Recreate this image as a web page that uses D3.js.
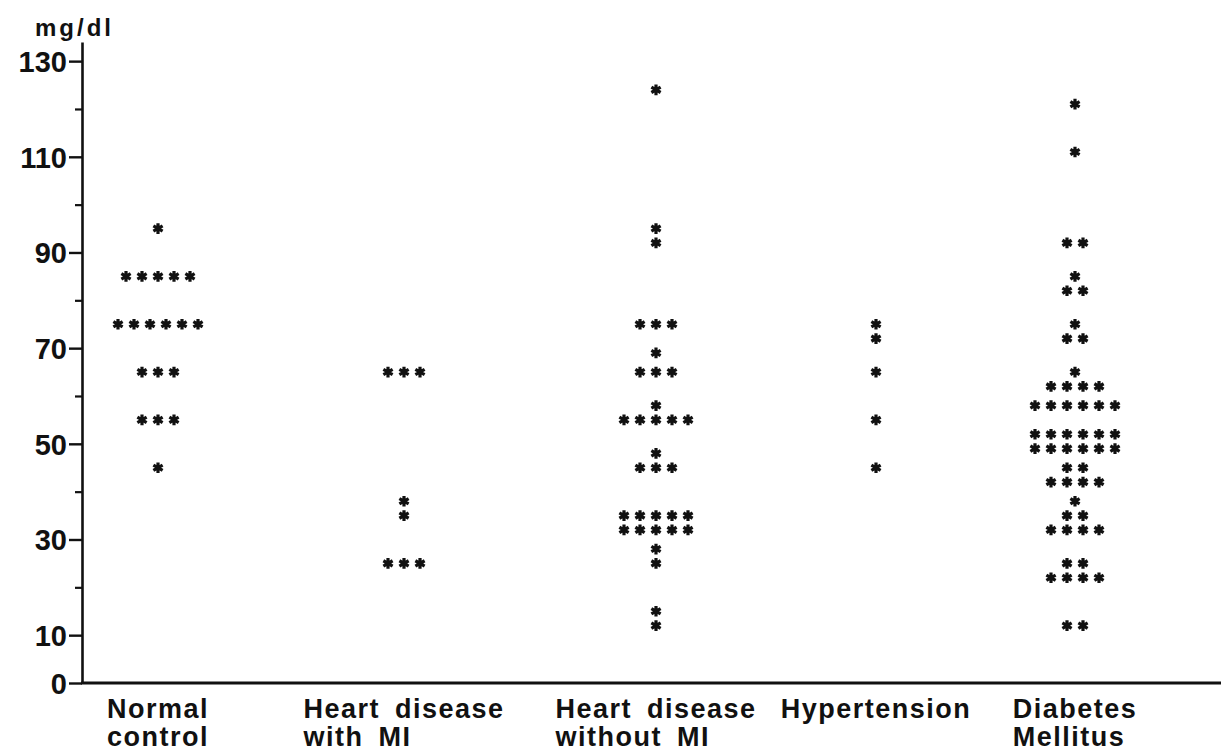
<!DOCTYPE html>
<meta charset="utf-8">
<style>

body {
  margin: 0;
  background: #fff;
}

.tick-label {
  font: bold 29px "Liberation Sans", Arial, sans-serif;
  fill: #111;
}

.cat {
  font: bold 27px "Liberation Sans", Arial, sans-serif;
  letter-spacing: 1.5px;
  word-spacing: 6px;
  fill: #111;
}

.unit {
  font: bold 24px "Liberation Sans", Arial, sans-serif;
  letter-spacing: 3px;
  fill: #111;
}

.star {
  fill: none;
  stroke: #111;
  stroke-width: 3.2px;
}

</style>
<svg width="1221" height="754"></svg>
<script src="https://d3js.org/d3.v7.min.js"></script>
<script>

// groups and their two-line labels
var groups = ["Normal control", "Heart disease with MI", "Heart disease without MI", "Hypertension", "Diabetes Mellitus"];
var labelLines = [["Normal", "control"], ["Heart disease", "with MI"], ["Heart disease", "without MI"], ["Hypertension"], ["Diabetes", "Mellitus"]];

// individual values (mg/dl), one entry per asterisk
var normalControl = [95, 85, 85, 85, 85, 85, 75, 75, 75, 75, 75, 75, 65, 65, 65, 55, 55, 55, 45];
var heartWithMI = [65, 65, 65, 38, 35, 25, 25, 25];
var heartWithoutMI = [124, 95, 92, 75, 75, 75, 69, 65, 65, 65, 58, 55, 55, 55, 55, 55, 48, 45, 45, 45,
                      35, 35, 35, 35, 35, 32, 32, 32, 32, 32, 28, 25, 15, 12];
var hypertension = [75, 72, 65, 55, 45];
var diabetes = [121, 111, 92, 92, 85, 82, 82, 75, 72, 72, 65, 62, 62, 62, 62,
                58, 58, 58, 58, 58, 58, 52, 52, 52, 52, 52, 52, 49, 49, 49, 49, 49, 49,
                45, 45, 42, 42, 42, 42, 38, 35, 35, 32, 32, 32, 32, 25, 25, 22, 22, 22, 22, 12, 12];

var series = [normalControl, heartWithMI, heartWithoutMI, hypertension, diabetes];

// y axis ticks
var majorTicks = [0, 10, 30, 50, 70, 90, 110, 130];
var minorTicks = [20, 40, 60, 80, 100, 120];

var svg = d3.select("svg"),
    axisLeftX = 82,
    step = 16;

var y = d3.scaleLinear().domain([0, 134]).range([683, 42]);
var x = d3.scaleOrdinal().domain(groups).range([158, 404, 656, 876, 1075]);

// y axis, major ticks with labels
var gy = svg.append("g")
    .attr("transform", "translate(" + axisLeftX + ",0)")
    .call(d3.axisLeft(y).tickValues(majorTicks).tickSize(13).tickPadding(2).tickSizeOuter(0));
gy.select(".domain").attr("stroke", "#111").attr("stroke-width", 2.6);
gy.selectAll(".tick line").attr("stroke", "#111").attr("stroke-width", 2.4);
gy.selectAll(".tick text").attr("class", "tick-label").attr("dy", "0.36em");

// minor ticks
var gm = svg.append("g")
    .attr("transform", "translate(" + axisLeftX + ",0)")
    .call(d3.axisLeft(y).tickValues(minorTicks).tickSize(7).tickFormat(""));
gm.select(".domain").remove();
gm.selectAll(".tick line").attr("stroke", "#111").attr("stroke-width", 2.2);

// x axis baseline
svg.append("line")
    .attr("x1", axisLeftX - 1).attr("x2", 1221)
    .attr("y1", y(0)).attr("y2", y(0))
    .attr("stroke", "#111").attr("stroke-width", 3);

// unit label
svg.append("text")
    .attr("class", "unit")
    .attr("x", 35).attr("y", 36)
    .text("mg/dl");

// asterisks: rows of equal values laid side by side around the group column
var star = d3.symbol(d3.symbolAsterisk, 80);

groups.forEach(function(g, gi) {
  var rows = d3.rollup(series[gi], function(v) { return v.length; }, function(v) { return v; });
  var pts = [];
  rows.forEach(function(n, v) {
    for (var i = 0; i < n; i++) pts.push({value: v, i: i, n: n});
  });
  svg.append("g").selectAll("path")
    .data(pts)
    .enter().append("path")
      .attr("class", "star")
      .attr("d", star)
      .attr("transform", function(d) {
        return "translate(" + (x(g) + (d.i - (d.n - 1) / 2) * step) + "," + y(d.value) + ")";
      });
});

// category labels: first line centred, second line starting at the same left edge
groups.forEach(function(g, gi) {
  var lines = labelLines[gi];
  var first = svg.append("text")
      .attr("class", "cat")
      .attr("x", x(g)).attr("y", 718)
      .attr("text-anchor", "middle")
      .text(lines[0]);
  if (lines[1]) {
    var left = first.node().getBBox().x;
    svg.append("text")
        .attr("class", "cat")
        .attr("x", left).attr("y", 746)
        .text(lines[1]);
  }
});

</script>
